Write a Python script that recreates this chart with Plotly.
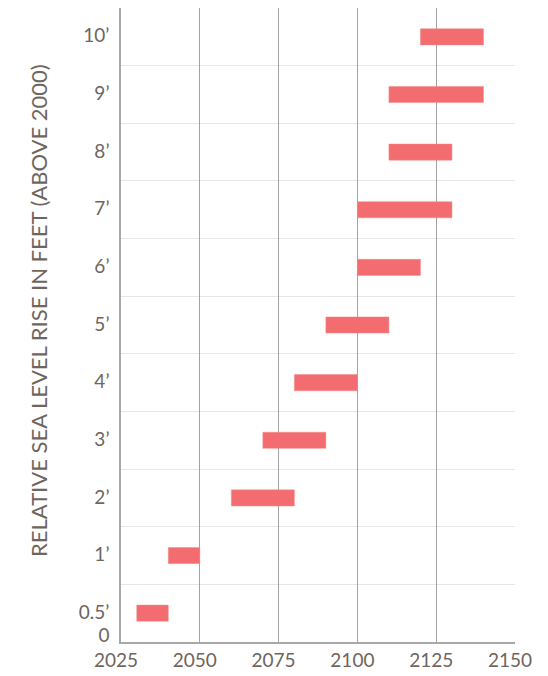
import plotly.graph_objects as go

levels = ["0.5’", "1’", "2’", "3’", "4’", "5’", "6’", "7’", "8’", "9’", "10’"]
start_year = [2030, 2040, 2060, 2070, 2080, 2090, 2100, 2100, 2110, 2110, 2120]
end_year = [2040, 2050, 2080, 2090, 2100, 2110, 2120, 2130, 2130, 2140, 2140]
x_ticks = [2025, 2050, 2075, 2100, 2125, 2150]
y_title = "RELATIVE SEA LEVEL RISE IN FEET (ABOVE 2000)"

y_pos = [i + 0.5 for i in range(len(levels))]
durations = [e - s for s, e in zip(start_year, end_year)]

txt = "#6f655d"
font_family = "Lato, Open Sans, sans-serif"

fig = go.Figure()
fig.add_trace(go.Bar(
    orientation="h",
    y=y_pos,
    x=durations,
    base=start_year,
    width=0.28,
    marker=dict(color="#f36c6f", line=dict(color="#f58a8c", width=0.5)),
    hoverinfo="skip",
))

fig.update_layout(
    width=548, height=676,
    margin=dict(l=113, r=41, t=0, b=42, autoexpand=False),
    paper_bgcolor="white", plot_bgcolor="white",
    showlegend=False,
    font=dict(family=font_family, color=txt, size=19),
    xaxis=dict(
        range=[2025, 2150],
        tickvals=x_ticks,
        ticktext=[str(v) for v in x_ticks],
        showgrid=True, gridcolor="#a3a3a3", gridwidth=1,
        showline=True, linecolor="#a8a8a8", linewidth=1.5,
        zeroline=False, ticks="",
        tickfont=dict(size=19, color=txt),
        ticklabelshift=-5,
        automargin=False,
    ),
    yaxis=dict(
        range=[0, 11.0001],
        tickvals=[0.1] + y_pos,
        ticktext=["0"] + levels,
        showgrid=False,
        minor=dict(tickvals=list(range(1, 12)), showgrid=True,
                   gridcolor="#e6e6e6", gridwidth=1, ticks=""),
        showline=True, linecolor="#a8a8a8", linewidth=1.5,
        zeroline=False, ticks="",
        tickfont=dict(size=19, color=txt),
        ticklabelshift=-1,
        ticklabelstandoff=6,
        automargin=False,
    ),
    annotations=[dict(
        text=y_title, textangle=-90,
        xref="paper", yref="paper",
        x=(38 - 121) / 394, y=(642 - 311) / 634,
        xanchor="center", yanchor="middle",
        showarrow=False,
        font=dict(family=font_family, size=22, color=txt),
    )],
)

fig.write_html("out.html")
